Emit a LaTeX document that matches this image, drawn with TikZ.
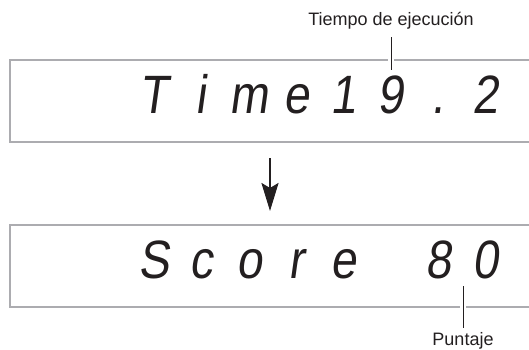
\documentclass[tikz,border=0pt]{standalone}
\usepackage{fontspec}
\setmainfont{Liberation Sans}
\newfontfamily\lcdfont[FakeStretch=0.86,FakeSlant=0.14]{Liberation Sans}
\usetikzlibrary{arrows.meta}
\definecolor{boxgray}{RGB}{172,172,176}
\definecolor{ink}{RGB}{35,31,32}
\begin{document}
\begin{tikzpicture}[x=1pt,y=-1pt,
  lcd/.style={font=\lcdfont\fontsize{54}{54}\selectfont, text=ink, anchor=base, inner sep=0pt},
  lbl/.style={font=\fontsize{18}{18}\selectfont, text=ink, anchor=base, inner sep=0pt},
  lcdbox/.style={draw=boxgray, line width=2.4pt, inner sep=0pt, anchor=north west, minimum width=580pt, minimum height=82pt},
  leader/.style={draw=ink, line width=1pt, preaction={draw=white, line width=6pt}},
  flow/.style={draw=ink, line width=2.5pt, -{Stealth[length=28pt,width=17pt,inset=5pt]}}]
\useasboundingbox (0,0) rectangle (529,349);
\clip (0,0) rectangle (529,349);
% display boxes
\node[lcdbox] (disp1) at (9,59) {};
\node[lcdbox] (disp2) at (9,224) {};
% display characters
\foreach \c/\x [count=\i] in {T/154,i/201,m/249,e/296,1/343,9/390,./438,2/485}
  \node[lcd] (t\i) at (\x,113) {\c};
\foreach \c/\x [count=\i] in {S/154,c/201,o/249,r/296,e/343,8/438,0/485}
  \node[lcd] (s\i) at (\x,278) {\c};
% labels and leaders
\node[lbl] (tlab) at (391,25) {Tiempo de ejecución};
\coordinate (l1a) at (391,37);
\coordinate (l1b) at (391,70);
\draw[leader] (l1a) -- (l1b);
\node[lbl] (plab) at (463,345) {Puntaje};
\coordinate (l2a) at (463,286);
\coordinate (l2b) at (463,328);
\draw[leader] (l2a) -- (l2b);
% flow arrow
\coordinate (a1) at (270,158);
\coordinate (a2) at (270,211);
\draw[flow] (a1) -- (a2);
\end{tikzpicture}
\end{document}
